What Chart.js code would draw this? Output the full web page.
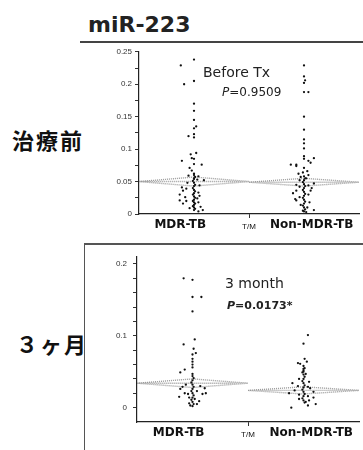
<!DOCTYPE html>
<html>
<head>
<meta charset="utf-8">
<script src="https://cdn.jsdelivr.net/npm/chart.js@4/dist/chart.umd.min.js"></script>
<style>
  body { margin: 0; width: 363px; height: 450px; overflow: hidden; background: #fff; position: relative; font-family: "DejaVu Sans", sans-serif; }
  .abs { position: absolute; white-space: nowrap; }
  #title { left: 88px; top: 12px; font: bold 22px "DejaVu Sans"; color: #222; }
  #topline { left: 80px; top: 41px; width: 283px; height: 2px; background: #444; }
  #frame { left: 84px; top: 243px; width: 300px; height: 220px; border-left: 1px solid #555; border-top: 2px solid #555; }
  .side { font: bold 22px "Noto Sans CJK JP"; color: #111; letter-spacing: 2px; }
  .note { font: 14px "DejaVu Sans"; color: #222; }
  .pval { font: 12px "DejaVu Sans"; color: #222; }
</style>
</head>
<body>
<div class="abs" id="title">miR-223</div>
<div class="abs" id="topline"></div>
<div class="abs" id="frame"></div>
<div class="abs side" style="left:12px; top:123px;">治療前</div>
<div class="abs side" style="left:16px; top:327px;">３ヶ月</div>
<canvas id="beforeChart" class="abs" width="283" height="196" style="left:80px; top:44px;"></canvas>
<canvas id="monthChart" class="abs" width="283" height="204" style="left:80px; top:246px;"></canvas>
<div class="abs note" style="left:203px; top:64px;">Before Tx</div>
<div class="abs pval" style="left:222px; top:85px;"><i>P</i>=0.9509</div>
<div class="abs note" style="left:225px; top:275px;">3 month</div>
<div class="abs pval" style="left:227px; top:299px; font-weight:bold; font-size:11px;"><i>P</i>=0.0173*</div>
<script>
// groups on the x axis
const categories = ['MDR-TB', 'Non-MDR-TB'];
const xAxisName = 'T/M';

// Before treatment: miR-223 values, and horizontal jitter (in category widths)
const beforeMdrVals = [0.238, 0.229, 0.205, 0.200, 0.170, 0.159, 0.145, 0.135, 0.132, 0.123, 0.120, 0.118, 0.094,
  0.092, 0.086, 0.085, 0.082, 0.077, 0.076, 0.071, 0.067, 0.062, 0.059, 0.058, 0.055, 0.053,
  0.060, 0.057, 0.054, 0.051, 0.048, 0.045, 0.043, 0.040, 0.037, 0.035, 0.032, 0.030, 0.027, 0.025,
  0.022, 0.020, 0.018, 0.016, 0.014, 0.012, 0.010, 0.008, 0.006,
  0.048, 0.041, 0.039, 0.036, 0.033, 0.030, 0.026, 0.021, 0.020, 0.024, 0.018, 0.016, 0.011, 0.009,
  0.006, 0.004, 0.044, 0.052, 0.028];
const beforeMdrJitter = [0, -0.12, 0, -0.09, 0, 0, 0, 0.02, 0, 0, -0.05, 0, 0.02,
  -0.03, -0.02, 0, -0.11, 0, 0.07, -0.04, -0.02, 0, -0.05, 0.04, 0, 0.03,
  0, 0.01, 0, -0.01, 0, 0.01, 0, -0.01, 0, 0.01, 0, -0.01, 0, 0.01,
  0, -0.01, 0, 0.01, 0, -0.01, 0, 0.01, 0,
  -0.06, -0.11, -0.07, -0.10, 0.04, -0.13, -0.08, -0.13, -0.07, 0.03, 0.04, -0.10, 0.06, -0.04,
  0.08, 0.04, 0.05, 0.09, 0.05];
const beforeNonVals = [0.229, 0.212, 0.206, 0.202, 0.188, 0.188, 0.150, 0.130, 0.115, 0.109, 0.101, 0.089, 0.085,
  0.082, 0.086, 0.079, 0.076, 0.076, 0.074, 0.071, 0.066, 0.064, 0.062, 0.060, 0.057, 0.055, 0.052,
  0.058, 0.055, 0.052, 0.049, 0.046, 0.043, 0.040, 0.037, 0.034, 0.031, 0.028, 0.025, 0.022, 0.019,
  0.016, 0.013, 0.010, 0.007, 0.004,
  0.045, 0.044, 0.040, 0.036, 0.036, 0.032, 0.030, 0.026, 0.023, 0.021, 0.018, 0.014, 0.010, 0.006,
  0.005, 0.003, 0.047, 0.042];
const beforeNonJitter = [0, 0, 0.01, 0, 0, 0.04, 0, 0, 0, 0, 0, 0, 0,
  0.04, 0.09, 0.06, -0.07, -0.12, -0.07, 0, 0.03, -0.01, -0.05, 0.04, -0.03, 0.02, -0.04,
  0, 0.01, 0, -0.01, 0, 0.01, 0, -0.01, 0, 0.01, 0, -0.01, 0, 0.01,
  0, -0.01, 0, 0.01, 0,
  -0.07, 0.04, 0.07, -0.07, 0.06, -0.10, 0.04, -0.04, -0.08, -0.07, 0.05, -0.03, 0.03, 0.09,
  -0.01, 0.02, 0.09, -0.04];
const beforeMeans = [0.050, 0.049];
const beforeCI = [0.007, 0.006];

// 3 months of treatment
const monthMdrVals = [0.180, 0.178, 0.154, 0.154, 0.134, 0.095, 0.088, 0.082, 0.076, 0.074, 0.068, 0.064, 0.060,
  0.056, 0.053, 0.049, 0.047,
  0.044, 0.041, 0.038, 0.035, 0.032, 0.029, 0.026, 0.023, 0.020, 0.017, 0.014, 0.011, 0.008, 0.005, 0.002,
  0.026, 0.020, 0.019, 0.015, 0.023, 0.019, 0.020, 0.009, 0.003, 0.005, 0.029, 0.030, 0.032, 0.027,
  0.014, 0.012, 0.006];
const monthMdrJitter = [-0.08, 0, 0, 0.08, 0, 0.02, -0.08, 0.01, 0.03, 0, 0, 0, 0,
  0, -0.07, -0.11, 0,
  0, 0.01, 0, -0.01, 0, 0.01, 0, -0.01, 0, 0.01, 0, -0.01, 0, 0.01, 0,
  -0.11, -0.07, -0.04, -0.12, 0.04, 0.09, 0.12, 0.06, -0.02, 0.04, -0.09, 0.07, -0.06, 0.11,
  -0.03, 0.02, -0.03];
const monthNonVals = [0.101, 0.089, 0.068, 0.062, 0.064, 0.061, 0.054, 0.050, 0.047,
  0.058, 0.055, 0.052, 0.049, 0.046, 0.043, 0.040, 0.037, 0.034, 0.031, 0.028, 0.025, 0.022, 0.019,
  0.016, 0.013, 0.010, 0.007,
  0.034, 0.030, 0.027, 0.024, 0.022, 0.020, 0.018, 0.016, 0.014, 0.012, 0.010, 0.005, 0.000, 0.008,
  0.003, 0.029, 0.036, 0.040];
const monthNonJitter = [0.04, 0, 0.01, -0.05, 0.03, -0.03, 0, 0, 0.02,
  0, 0.01, 0, -0.01, 0, 0.01, 0, -0.01, 0, 0.01, 0, -0.01, 0, 0.01,
  0, -0.01, 0, 0.01,
  -0.10, -0.05, 0.06, -0.08, 0.09, -0.13, -0.04, 0.04, 0.09, -0.04, 0.05, 0.11, -0.11, 0.02,
  0.04, 0.04, 0.05, -0.04];
const monthMeans = [0.034, 0.024];
const monthCI = [0.006, 0.005];

// y ticks and their labels
const beforeYTicks = [0, 0.025, 0.05, 0.075, 0.1, 0.125, 0.15, 0.175, 0.2, 0.225, 0.25];
const beforeYLabels = ['0', '', '0.05', '', '0.1', '', '0.15', '', '0.2', '', '0.25'];
const monthYTicks = [0, 0.02, 0.04, 0.06, 0.08, 0.1, 0.12, 0.14, 0.16, 0.18, 0.2];
const monthYLabels = ['0', '', '', '', '', '0.1', '', '', '', '', '0.2'];

// where the x labels sit (category units)
const labelPos = [-0.125, 0.5, 1.07];
const xLabels = [categories[0], ['', xAxisName], categories[1]];

function drawPanel(id, p) {
    const points = [];
    p.groups.forEach((g, i) => {
        g.vals.forEach((v, k) => points.push({ x: i + (g.jit[k] || 0), y: v }));
    });

    // means diamonds (JMP style)
    const diamonds = p.means.map((m, i) => {
        const c = p.ci[i];
        return {
            type: 'scatter',
            showLine: true,
            data: [
                { x: i - 0.5, y: m }, { x: i, y: m + c }, { x: i + 0.5, y: m },
                { x: i, y: m - c }, { x: i - 0.5, y: m }, { x: i + 0.5, y: m }
            ],
            borderColor: '#999',
            borderWidth: 1.4,
            borderDash: [1, 1],
            pointRadius: 0,
            order: 2
        };
    });

    new Chart(document.getElementById(id).getContext('2d'), {
        type: 'scatter',
        data: {
            datasets: [{
                data: points,
                pointRadius: 1.15,
                backgroundColor: '#111',
                borderWidth: 0,
                order: 1
            }, ...diamonds]
        },
        options: {
            responsive: false,
            animation: false,
            devicePixelRatio: 1,
            layout: { padding: { top: p.padTop, left: 0, right: 0, bottom: 0 } },
            plugins: { legend: { display: false }, tooltip: { enabled: false } },
            scales: {
                x: {
                    type: 'linear',
                    min: -0.5,
                    max: 1.5,
                    afterBuildTicks: s => { s.ticks = labelPos.map(v => ({ value: v })); },
                    afterFit: s => { s.height = p.xHeight; },
                    grid: {
                        drawOnChartArea: false,
                        tickLength: 4,
                        tickColor: c => c.index === 1 ? '#333' : 'rgba(0,0,0,0)'
                    },
                    border: { color: '#222', width: 1.2 },
                    ticks: {
                        autoSkip: false,
                        maxRotation: 0,
                        padding: 0,
                        color: '#111',
                        font: c => c.index === 1
                            ? { family: 'Liberation Sans', size: 8, lineHeight: 0.7 }
                            : { family: 'DejaVu Sans', size: 12, weight: 'bold' },
                        callback: (v, i) => xLabels[i]
                    }
                },
                y: {
                    min: p.yMin,
                    max: p.yMax,
                    afterBuildTicks: s => { s.ticks = p.yTicks.map(v => ({ value: v })); },
                    afterFit: s => { s.width = p.yWidth; },
                    grid: { drawOnChartArea: false, tickLength: 4, tickColor: '#333' },
                    border: { color: '#222', width: 1.2 },
                    ticks: {
                        autoSkip: false,
                        padding: p.yPad,
                        color: '#333',
                        font: { family: 'Liberation Sans', size: 8 },
                        callback: (v, i) => p.yLabels[i]
                    }
                }
            }
        }
    });
}

drawPanel('beforeChart', {
    groups: [{ vals: beforeMdrVals, jit: beforeMdrJitter }, { vals: beforeNonVals, jit: beforeNonJitter }],
    means: beforeMeans, ci: beforeCI,
    yMin: 0, yMax: 0.25, yTicks: beforeYTicks, yLabels: beforeYLabels,
    padTop: 5, xHeight: 26, yWidth: 59, yPad: 3
});

drawPanel('monthChart', {
    groups: [{ vals: monthMdrVals, jit: monthMdrJitter }, { vals: monthNonVals, jit: monthNonJitter }],
    means: monthMeans, ci: monthCI,
    yMin: -0.02, yMax: 0.21, yTicks: monthYTicks, yLabels: monthYLabels,
    padTop: 6, xHeight: 28, yWidth: 57, yPad: 6
});
</script>
</body>
</html>
